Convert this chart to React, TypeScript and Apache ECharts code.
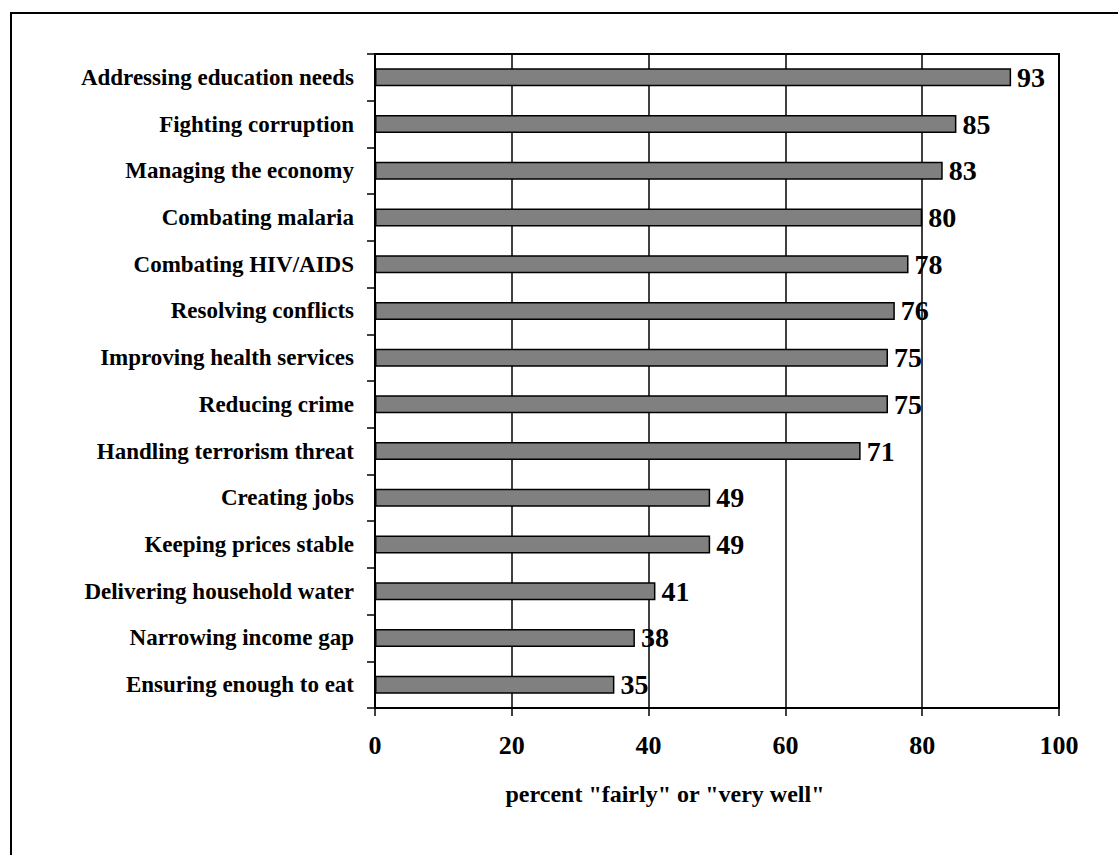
import React, { useEffect, useRef } from "react";
import * as echarts from "echarts";

const categories = [
  "Addressing education needs",
  "Fighting corruption",
  "Managing the economy",
  "Combating malaria",
  "Combating HIV/AIDS",
  "Resolving conflicts",
  "Improving health services",
  "Reducing crime",
  "Handling terrorism threat",
  "Creating jobs",
  "Keeping prices stable",
  "Delivering household water",
  "Narrowing income gap",
  "Ensuring enough to eat",
];
const values = [93, 85, 83, 80, 78, 76, 75, 75, 71, 49, 49, 41, 38, 35];
const axisTitle = 'percent "fairly" or "very well"';

const FONT = '"Liberation Serif", "Times New Roman", serif';

export default function App() {
  const ref = useRef<HTMLDivElement>(null);
  useEffect(() => {
    if (!ref.current) return;
    const chart = echarts.init(ref.current, null, { renderer: "svg" });
    chart.setOption({
      animation: false,
      backgroundColor: "#ffffff",
      grid: {
        left: 375,
        top: 54,
        width: 684,
        height: 654,
        show: true,
        borderColor: "#000",
        borderWidth: 2,
        backgroundColor: "transparent",
      },
      xAxis: {
        type: "value",
        min: 0,
        max: 100,
        interval: 20,
        axisLine: { show: true, lineStyle: { color: "#000", width: 2 } },
        axisTick: { show: true, length: 8, lineStyle: { color: "#000", width: 1.5 } },
        splitLine: { show: true, lineStyle: { color: "#000", width: 1.5 } },
        axisLabel: {
          color: "#000",
          fontFamily: FONT,
          fontWeight: "bold",
          fontSize: 26,
          margin: 24,
        },
      },
      yAxis: {
        type: "category",
        data: categories,
        inverse: true,
        axisLine: { show: true, lineStyle: { color: "#000", width: 2 } },
        axisTick: { show: true, length: 8, lineStyle: { color: "#000", width: 1.5 } },
        splitLine: { show: false },
        axisLabel: {
          color: "#000",
          fontFamily: FONT,
          fontWeight: "bold",
          fontSize: 23,
          margin: 21,
        },
      },
      graphic: [
        {
          type: "rect",
          shape: { x: 11, y: 13, width: 1130, height: 870 },
          style: { fill: "none", stroke: "#000", lineWidth: 2 },
          silent: true,
        },
        {
          type: "text",
          x: 665,
          y: 794,
          style: {
            text: axisTitle,
            fill: "#000",
            font: `bold 24px ${FONT}`,
            textAlign: "center",
            textVerticalAlign: "middle",
          },
        },
      ],
      series: [
        {
          type: "bar",
          data: values,
          barWidth: 18,
          itemStyle: { color: "#808080", borderColor: "#000", borderWidth: 1.5 },
          label: {
            show: true,
            position: "right",
            distance: 6,
            color: "#000",
            fontFamily: FONT,
            fontWeight: "bold",
            fontSize: 28,
          },
        },
      ],
    });
    return () => chart.dispose();
  }, []);
  return (
    <div
      ref={ref}
      style={{ position: "fixed", left: 0, top: 0, width: 1118, height: 855, background: "#fff" }}
    />
  );
}
